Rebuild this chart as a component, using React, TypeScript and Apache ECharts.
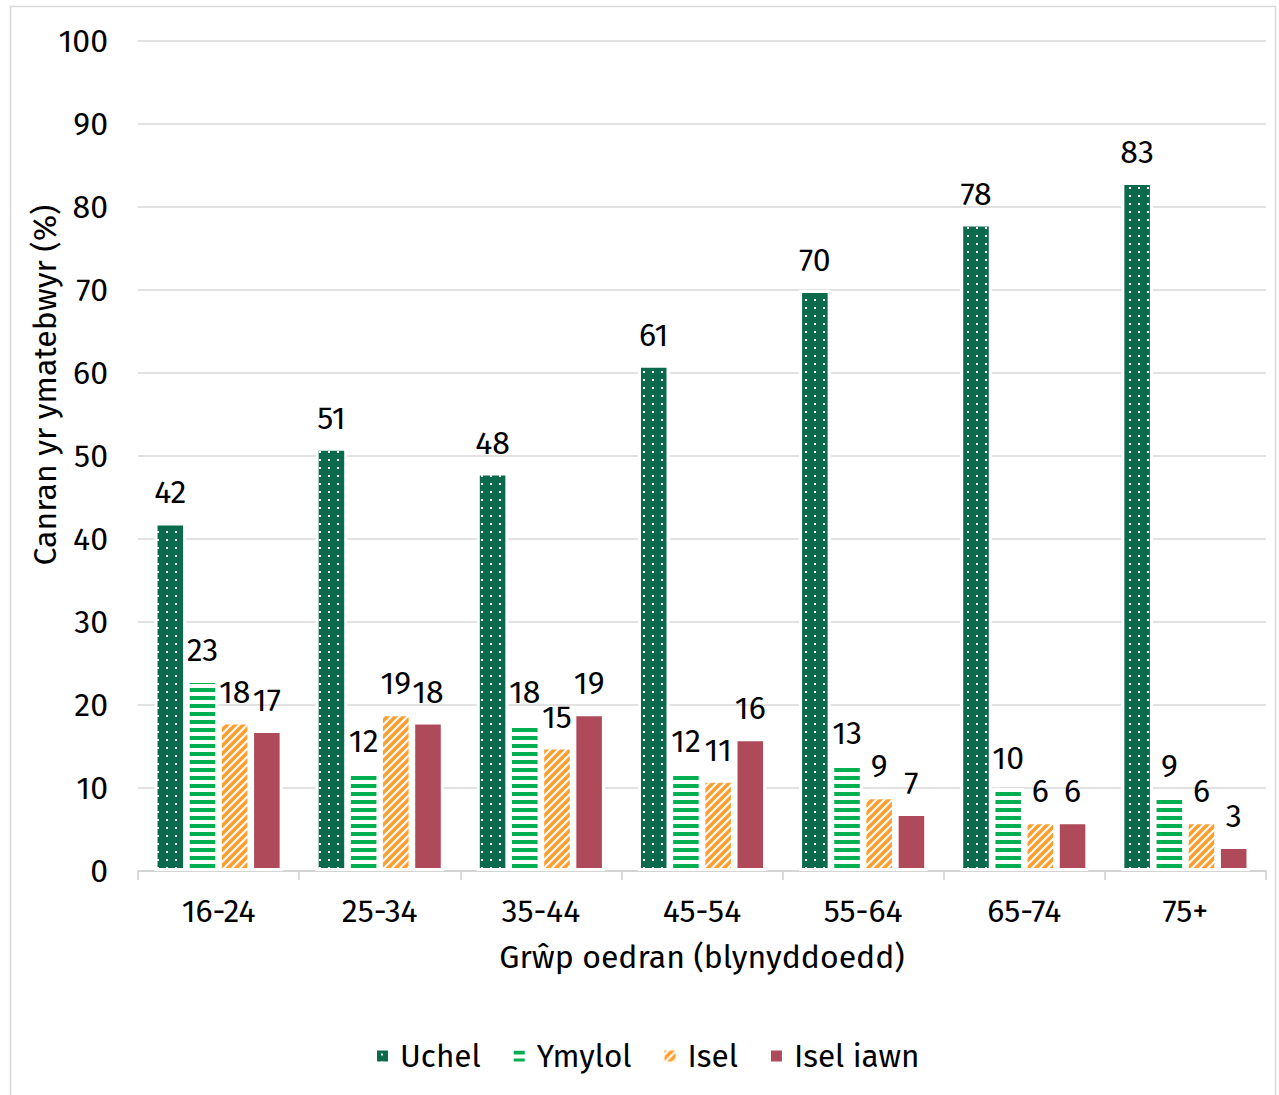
import React, { useEffect, useRef } from "react";
import * as echarts from "echarts";

const categories = ["16-24", "25-34", "35-44", "45-54", "55-64", "65-74", "75+"];
const seriesNames = ["Uchel", "Ymylol", "Isel", "Isel iawn"];
const uchel = [42, 51, 48, 61, 70, 78, 83];
const ymylol = [23, 12, 18, 12, 13, 10, 9];
const isel = [18, 19, 15, 11, 9, 6, 6];
const iselIawn = [17, 18, 19, 16, 7, 6, 3];
const yTicks = { min: 0, max: 100, interval: 10 };

const FONT = "'Fira Sans', 'Noto Sans', sans-serif";

function makeCanvas(w: number, h: number, draw: (ctx: CanvasRenderingContext2D) => void) {
  const c = document.createElement("canvas");
  c.width = w;
  c.height = h;
  const ctx = c.getContext("2d")!;
  draw(ctx);
  return c;
}

function dotsPattern() {
  return makeCanvas(9, 8, (ctx) => {
    ctx.fillStyle = "#0B6A4B";
    ctx.fillRect(0, 0, 9, 8);
    ctx.fillStyle = "#ffffff";
    ctx.fillRect(4, 3, 2, 2);
  });
}

function stripesPattern() {
  return makeCanvas(8, 8, (ctx) => {
    ctx.fillStyle = "#ffffff";
    ctx.fillRect(0, 0, 8, 8);
    ctx.fillStyle = "#00B050";
    ctx.fillRect(0, 0, 8, 4);
  });
}

function diagPattern() {
  return makeCanvas(8, 8, (ctx) => {
    ctx.fillStyle = "#ffffff";
    ctx.fillRect(0, 0, 8, 8);
    ctx.strokeStyle = "#FF9E2E";
    ctx.lineWidth = 3.6;
    ctx.beginPath();
    ctx.moveTo(-2, 10);
    ctx.lineTo(10, -2);
    ctx.moveTo(-6, 6);
    ctx.lineTo(6, -6);
    ctx.moveTo(2, 14);
    ctx.lineTo(14, 2);
    ctx.stroke();
  });
}

export default function App() {
  const ref = useRef<HTMLDivElement>(null);
  useEffect(() => {
    const chart = echarts.init(ref.current!, undefined, { renderer: "svg" });
    const fills: any[] = [
      { image: dotsPattern(), repeat: "repeat" },
      { image: stripesPattern(), repeat: "repeat" },
      { image: diagPattern(), repeat: "repeat" },
      "#AE4A5A",
    ];
    const data = [uchel, ymylol, isel, iselIawn];
    chart.setOption({
      animation: false,
      textStyle: { fontFamily: FONT },
      graphic: [
        {
          type: "rect",
          shape: { x: 10.5, y: 6.5, width: 1265, height: 1100 },
          style: { fill: "none", stroke: "#d9d9d9", lineWidth: 1.5 },
          silent: true,
        },
      ],
      grid: { left: 138, right: 13, top: 41, height: 830 },
      legend: {
        top: 1040,
        left: 377,
        padding: 0,
        itemWidth: 11,
        itemHeight: 11,
        itemGap: 33,
        icon: "rect",
        itemStyle: { borderWidth: 0 },
        textStyle: { fontSize: 31.5, color: "#000", fontFamily: FONT, padding: [0, 0, 0, 7] },
        data: seriesNames,
      },
      xAxis: {
        type: "category",
        data: categories,
        name: "Grŵp oedran (blynyddoedd)",
        nameLocation: "middle",
        nameGap: 70,
        nameMoveOverlap: false,
        nameTextStyle: { fontSize: 32, color: "#000", fontFamily: FONT },
        axisLine: { lineStyle: { color: "#cfcfcf", width: 1.5 } },
        axisTick: { show: true, length: 9, lineStyle: { color: "#cfcfcf", width: 1.5 } },
        axisLabel: { fontSize: 32, color: "#000", margin: 24, fontFamily: FONT },
      },
      yAxis: {
        type: "value",
        min: yTicks.min,
        max: yTicks.max,
        interval: yTicks.interval,
        name: "Canran yr ymatebwyr (%)",
        nameLocation: "middle",
        nameGap: 77,
        nameMoveOverlap: false,
        nameTextStyle: { fontSize: 32, color: "#000", fontFamily: FONT, padding: [0, 0, 0, 142] },
        axisLine: { show: false },
        axisTick: { show: false },
        axisLabel: { fontSize: 32, color: "#000", margin: 30, fontFamily: FONT },
        splitLine: { lineStyle: { color: "#d9d9d9", width: 1.5 } },
      },
      series: seriesNames.map((name, i) => ({
        name,
        type: "bar",
        data: data[i],
        barGap: "2%",
        barCategoryGap: "20.5%",
        itemStyle: { color: fills[i], borderColor: "#ffffff", borderWidth: 3 },
        label: {
          show: true,
          position: "top",
          distance: 14,
          fontSize: 32,
          color: "#000",
          fontFamily: FONT,
        },
      })),
    });
    return () => chart.dispose();
  }, []);
  return (
    <div
      ref={ref}
      style={{ position: "absolute", left: 0, top: 0, width: 1279, height: 1095, background: "#fff" }}
    />
  );
}
